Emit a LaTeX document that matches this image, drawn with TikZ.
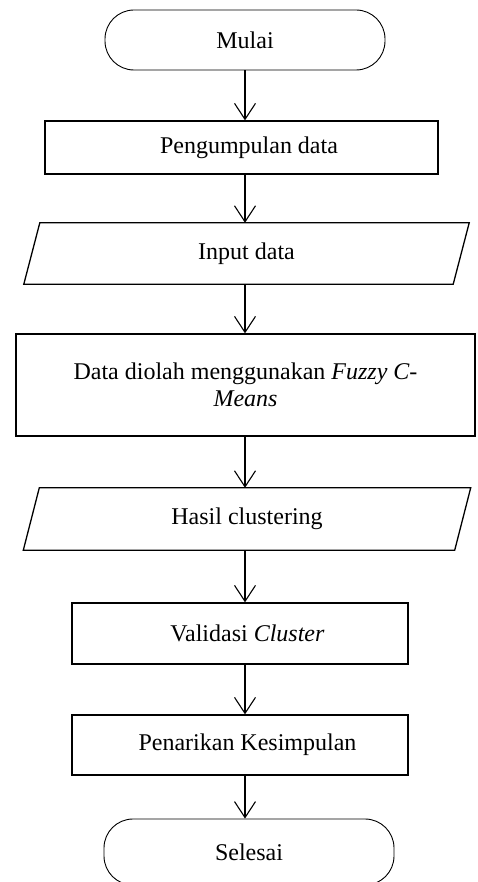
\documentclass[tikz,border=0pt]{standalone}
\usepackage{fontspec}
\setmainfont{Liberation Serif}
\usetikzlibrary{arrows.meta,calc}

\tikzset{
  boxtext/.style={font=\fontsize{24}{27.6}\selectfont, inner sep=0pt, align=center},
  procbox/.style={boxtext, draw, line width=1.3pt, rectangle},
  indented/.style={execute at begin node={\hspace*{15pt}}},
  termbox/.style={boxtext, draw, line width=0.9pt, rectangle, rounded corners=29pt},
  iobox/.style={boxtext, rectangle},
  iolines/.style={draw, line width=1.3pt, line join=miter},
  flow/.style={line width=1.1pt, -{Straight Barb[length=16pt, width=21pt, line width=1.1pt]}}
}

\begin{document}
\begin{tikzpicture}[x=1pt, y=-1pt]
  \useasboundingbox (0,0) rectangle (477,882);
  \clip (0,0) rectangle (477,882);
  \fill[white] (0,0) rectangle (477,882);

  % flow axis
  \coordinate (axis) at (245,0);

  \node[termbox, minimum width=280pt, minimum height=60pt] (mulai) at (245,40) {Mulai};
  \node[procbox, indented, minimum width=393pt, minimum height=53pt] (kumpul) at (241.5,147.5) {Pengumpulan data};
  \node[iobox, minimum width=429pt, minimum height=61pt] (input) at (246.5,253.5) {Input data};
  \node[procbox, minimum width=459pt, minimum height=102pt] (olah) at (245.5,385)
    {Data diolah menggunakan \textit{Fuzzy C-}\\[-1pt]\textit{Means}};
  \node[iobox, minimum width=431pt, minimum height=62pt] (hasil) at (247,519) {Hasil clustering};
  \node[procbox, indented, minimum width=336pt, minimum height=61pt] (valid) at (240,633.5) {Validasi \textit{Cluster}};
  \node[procbox, indented, minimum width=336pt, minimum height=60pt] (tarik) at (240,745) {Penarikan Kesimpulan};
  \node[termbox, minimum width=290pt, minimum height=66pt] (selesai) at (249,852) {Selesai};

  % slanted input/output shapes
  \path[iolines] ([xshift=8pt]input.north west) -- ([xshift=8pt]input.north east)
    -- ([xshift=-8pt]input.south east) -- ([xshift=-8pt]input.south west) -- cycle;
  \path[iolines] ([xshift=8pt]hasil.north west) -- ([xshift=8pt]hasil.north east)
    -- ([xshift=-8pt]hasil.south east) -- ([xshift=-8pt]hasil.south west) -- cycle;

  % connectors
  \draw[flow] (mulai.south -| axis) -- (kumpul.north -| axis);
  \draw[flow] (kumpul.south -| axis) -- (input.north -| axis);
  \draw[flow] (input.south -| axis) -- (olah.north -| axis);
  \draw[flow] (olah.south -| axis) -- (hasil.north -| axis);
  \draw[flow] (hasil.south -| axis) -- (valid.north -| axis);
  \draw[flow] (valid.south -| axis) -- (tarik.north -| axis);
  \draw[flow] (tarik.south -| axis) -- (selesai.north -| axis);
\end{tikzpicture}
\end{document}
